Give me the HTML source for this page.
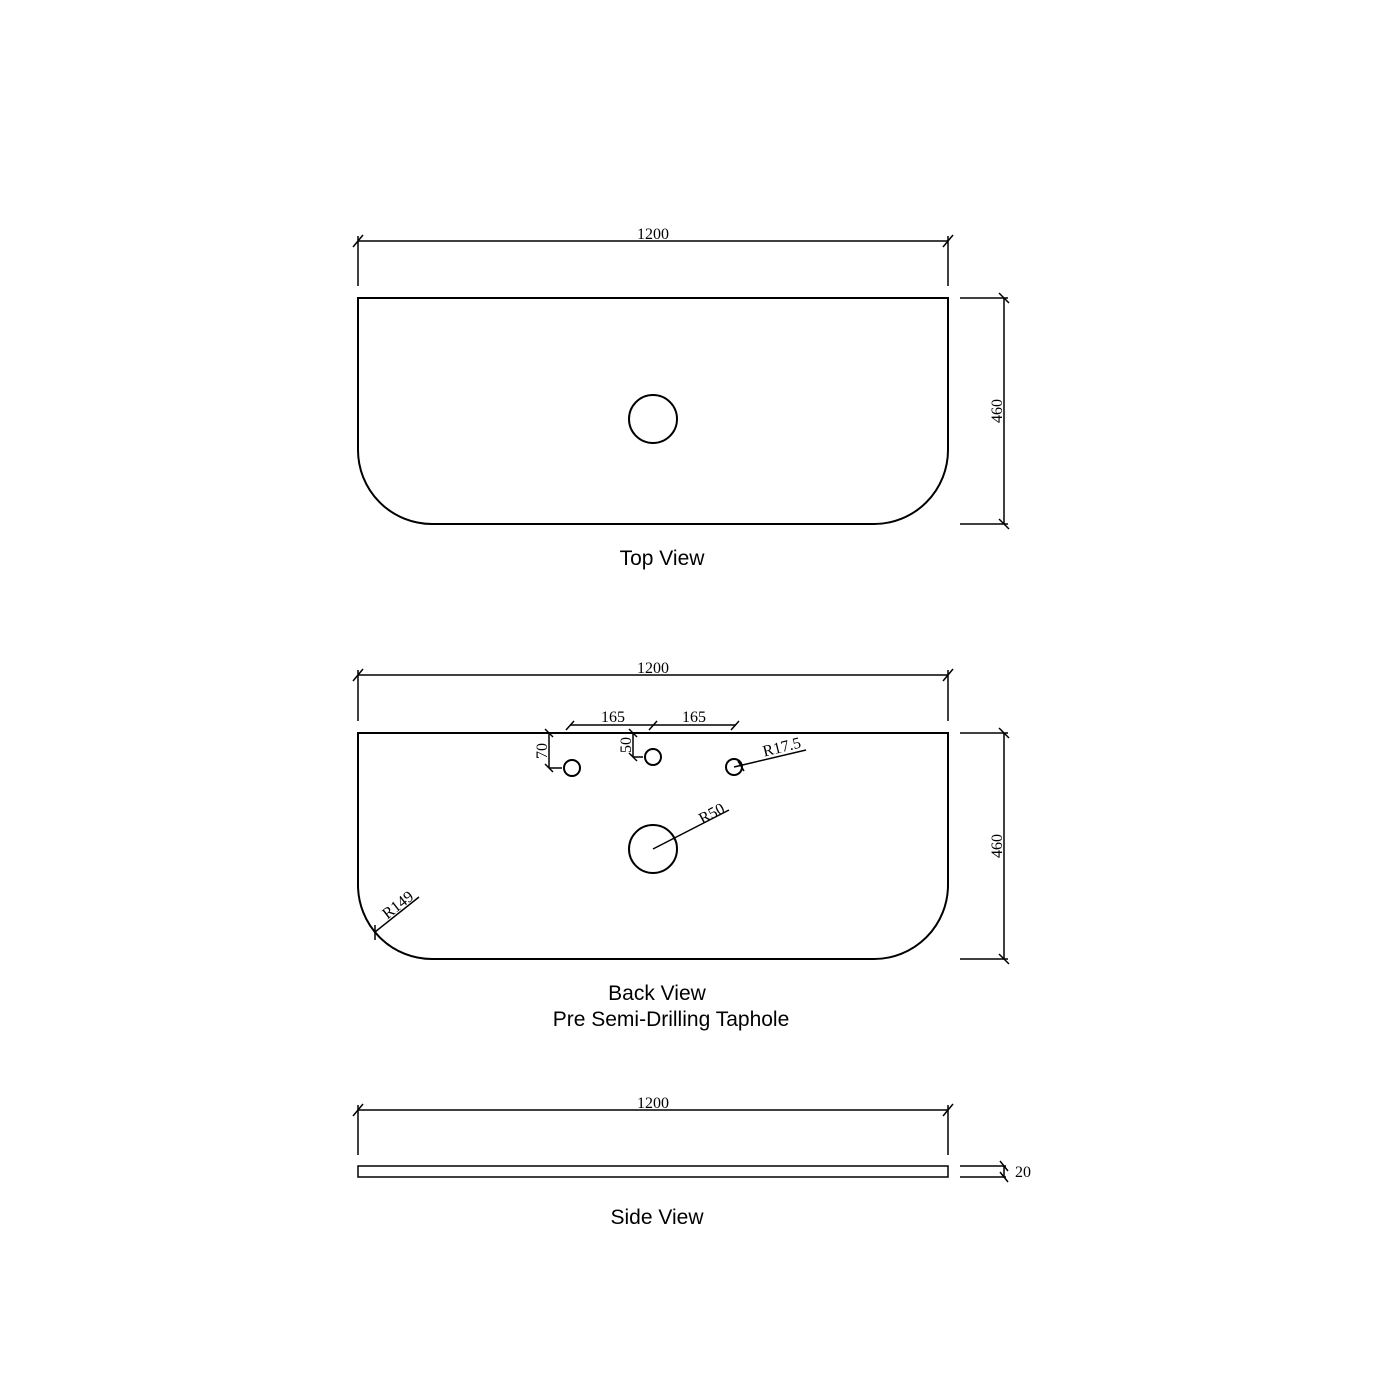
<!DOCTYPE html>
<html><head><meta charset="utf-8"><style>
html,body{margin:0;padding:0;background:#fff;}
svg{display:block;}
.l{stroke:#000;stroke-width:2;fill:none;}
.t{stroke:#000;stroke-width:1.5;fill:none;}
.d{font-family:"Liberation Serif",serif;font-size:16px;fill:#000;}
.s{font-family:"Liberation Sans",sans-serif;font-size:21px;fill:#000;letter-spacing:0px;}
</style></head><body>
<svg width="1400" height="1400" viewBox="0 0 1400 1400" xmlns="http://www.w3.org/2000/svg">
<!-- TOP VIEW -->
<path class="l" d="M358 298 H948 V450 A74 74 0 0 1 874 524 H432 A74 74 0 0 1 358 450 Z"/>
<circle class="l" cx="653" cy="419" r="24"/>
<line class="t" x1="358" y1="241" x2="948" y2="241"/>
<line class="t" x1="358" y1="236" x2="358" y2="286"/>
<line class="t" x1="948" y1="236" x2="948" y2="286"/>
<line class="t" x1="353" y1="247" x2="363" y2="235"/>
<line class="t" x1="943" y1="247" x2="953" y2="235"/>
<text class="d" x="653" y="239" text-anchor="middle">1200</text>
<line class="t" x1="1004" y1="298" x2="1004" y2="524"/>
<line class="t" x1="960" y1="298" x2="1008" y2="298"/>
<line class="t" x1="960" y1="524" x2="1008" y2="524"/>
<line class="t" x1="999" y1="293" x2="1009" y2="303"/>
<line class="t" x1="999" y1="519" x2="1009" y2="529"/>
<text class="d" transform="translate(1002,411) rotate(-90)" text-anchor="middle">460</text>
<text class="s" x="662" y="565" text-anchor="middle">Top View</text>

<!-- BACK VIEW -->
<path class="l" d="M358 733 H948 V885 A74 74 0 0 1 874 959 H432 A74 74 0 0 1 358 885 Z"/>
<circle class="l" cx="653" cy="849" r="24"/>
<circle class="l" cx="572" cy="768" r="8"/>
<circle class="l" cx="653" cy="757" r="8"/>
<circle class="l" cx="734" cy="767" r="8"/>
<line class="t" x1="358" y1="675" x2="948" y2="675"/>
<line class="t" x1="358" y1="670" x2="358" y2="721"/>
<line class="t" x1="948" y1="670" x2="948" y2="721"/>
<line class="t" x1="353" y1="681" x2="363" y2="669"/>
<line class="t" x1="943" y1="681" x2="953" y2="669"/>
<text class="d" x="653" y="673" text-anchor="middle">1200</text>
<line class="t" x1="570" y1="725" x2="736" y2="725"/>
<line class="t" x1="566" y1="730" x2="574" y2="721"/>
<line class="t" x1="649" y1="730" x2="657" y2="721"/>
<line class="t" x1="731" y1="730" x2="739" y2="721"/>
<text class="d" x="613" y="722" text-anchor="middle">165</text>
<text class="d" x="694" y="722" text-anchor="middle">165</text>
<line class="t" x1="549" y1="733" x2="549" y2="768"/>
<line class="t" x1="549" y1="768" x2="562" y2="768"/>
<line class="t" x1="545" y1="729" x2="553" y2="737"/>
<line class="t" x1="545" y1="764" x2="553" y2="772"/>
<text class="d" transform="translate(547,751) rotate(-90)" text-anchor="middle">70</text>
<line class="t" x1="633" y1="733" x2="633" y2="757"/>
<line class="t" x1="633" y1="757" x2="643" y2="757"/>
<line class="t" x1="629" y1="729" x2="637" y2="737"/>
<line class="t" x1="629" y1="753" x2="637" y2="761"/>
<text class="d" transform="translate(631,745) rotate(-90)" text-anchor="middle">50</text>
<line class="t" x1="734" y1="767" x2="806" y2="750"/>
<line class="t" x1="738" y1="761" x2="744" y2="771"/>
<text class="d" transform="translate(783,752) rotate(-14)" text-anchor="middle">R17.5</text>
<line class="t" x1="653" y1="849" x2="729" y2="810"/>
<line class="t" x1="672" y1="834" x2="677" y2="844"/>
<text class="d" transform="translate(714,818) rotate(-28)" text-anchor="middle">R50</text>
<line class="t" x1="375" y1="932" x2="419" y2="897"/>
<line class="t" x1="375" y1="925" x2="375" y2="940"/>
<text class="d" transform="translate(401,909) rotate(-38)" text-anchor="middle">R149</text>
<line class="t" x1="1004" y1="733" x2="1004" y2="959"/>
<line class="t" x1="960" y1="733" x2="1008" y2="733"/>
<line class="t" x1="960" y1="959" x2="1008" y2="959"/>
<line class="t" x1="999" y1="728" x2="1009" y2="738"/>
<line class="t" x1="999" y1="954" x2="1009" y2="964"/>
<text class="d" transform="translate(1002,846) rotate(-90)" text-anchor="middle">460</text>
<text class="s" x="657" y="1000" text-anchor="middle">Back View</text>
<text class="s" x="671" y="1026" text-anchor="middle">Pre Semi-Drilling Taphole</text>

<!-- SIDE VIEW -->
<rect class="t" x="358" y="1166" width="590" height="11"/>
<line class="t" x1="358" y1="1110" x2="948" y2="1110"/>
<line class="t" x1="358" y1="1105" x2="358" y2="1155"/>
<line class="t" x1="948" y1="1105" x2="948" y2="1155"/>
<line class="t" x1="353" y1="1116" x2="363" y2="1104"/>
<line class="t" x1="943" y1="1116" x2="953" y2="1104"/>
<text class="d" x="653" y="1108" text-anchor="middle">1200</text>
<line class="t" x1="960" y1="1166" x2="1006" y2="1166"/>
<line class="t" x1="960" y1="1177" x2="1006" y2="1177"/>
<line class="t" x1="1004" y1="1166" x2="1004" y2="1177"/>
<line class="t" x1="1000" y1="1161" x2="1008" y2="1171"/>
<line class="t" x1="1000" y1="1172" x2="1008" y2="1182"/>
<text class="d" x="1015" y="1177">20</text>
<text class="s" x="657" y="1224" text-anchor="middle">Side View</text>
</svg>
</body></html>
